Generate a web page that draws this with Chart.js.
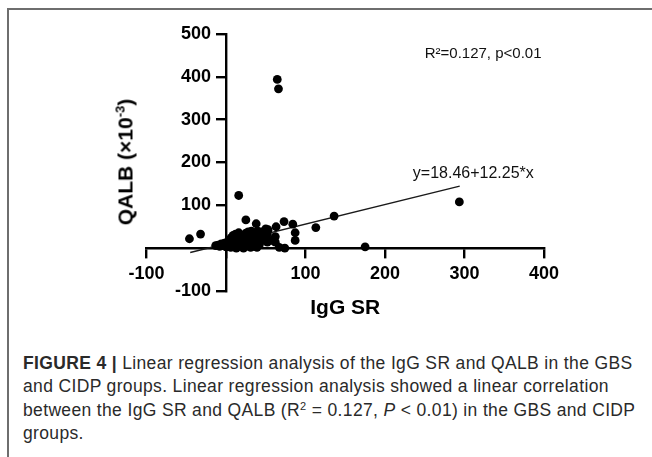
<!DOCTYPE html>
<html>
<head>
<meta charset="utf-8">
<script src="https://cdn.jsdelivr.net/npm/chart.js@4.4.1/dist/chart.umd.min.js"></script>
<style>
  body { margin: 0; background: #fff; width: 652px; height: 457px; overflow: hidden; position: relative;
         font-family: "Liberation Sans", Arial, sans-serif; }
  #frame { position: absolute; left: 7px; top: 8px; width: 660px; height: 460px;
           border-left: 2px solid #6e6e6e; border-top: 2px solid #6e6e6e; }
  #chart { position: absolute; left: 0; top: 0; }
  #ytitle { position: absolute; left: 125px; top: 162px; transform: translate(-50%, -50%) rotate(-90deg);
            font-weight: bold; font-size: 21px; white-space: nowrap; color: #000; line-height: 1; }
  #ytitle sup { font-size: 13px; vertical-align: 8px; line-height: 0; }
  #caption { position: absolute; left: 23px; top: 352px; font-size: 17.5px; letter-spacing: 0.35px;
             line-height: 23.3px; color: #2a2a2a; white-space: nowrap; }
  #caption sup { font-size: 11px; vertical-align: 6px; line-height: 0; }
</style>
</head>
<body>
<div id="frame"></div>
<canvas id="chart" width="652" height="330"></canvas>
<div id="ytitle">QALB (×10<sup>-3</sup>)</div>
<div id="caption">
  <b>FIGURE 4 |</b> Linear regression analysis of the IgG SR and QALB in the GBS<br>
  and CIDP groups. Linear regression analysis showed a linear correlation<br>
  between the IgG SR and QALB (R<sup>2</sup> = 0.127, <i>P</i> &lt; 0.01) in the GBS and CIDP<br>
  groups.
</div>
<script>
// IgG SR (x) and QALB x10^-3 (y)
const igg  = [64.5, 66, 16, -46, -32, 25, 38, 73, 84, 87, 87, 113, 136, 293.5, 175,
              63, 53, 52, 62, 52, 62, 57, 67, 74, 39, 31, 46, 45, 48, 50,
              -13, -10, -8, -6, -4, -2, 0, 0, 2, 3, 4, 5, 6, 7, 8, 9, 10, 11, 12, 13,
              14, 15, 16, 17, 18, 19, 20, 21, 22, 23, 24, 25, 26, 27, 28, 30, 31, 32,
              33, 34, 35, 36, 38, 40, 42, 44];
const qalb = [394, 372, 123, 22, 33, 66, 57, 62, 56, 36, 18, 48, 75, 108, 3,
              50, 43, 33, 27, 14, 14, 18, 2, 0, 2, 2, 18, 38, 30, 45,
              6, 7, 4, 10, 6, 12, 8, 3, 15, 5, 20, 10, 2, 25, 14, 30, 6, 20, 33, 0,
              12, 26, 36, 4, 18, 30, 8, 22, 0, 14, 28, 35, 5, 20, 38, 12, 30, 40,
              22, 4, 36, 15, 28, 40, 8, 22];

// regression line as drawn in the figure
const fitX = [-45, 294];
const fitY = [-10, 145];

const xTicks = [-100, 0, 100, 200, 300, 400];
const yTicks = [-100, 0, 100, 200, 300, 400, 500];

const statText = 'R\u00b2=0.127, p<0.01';
const fitText = 'y=18.46+12.25*x';

const fam = '"Liberation Sans", Arial, sans-serif';

const notes = {
  id: 'notes',
  afterDatasetsDraw(chart) {
    const {ctx, scales: {x, y}} = chart;
    ctx.save();
    ctx.fillStyle = '#111';
    ctx.textBaseline = 'middle';
    ctx.font = '15px ' + fam;
    ctx.fillText(statText, x.getPixelForValue(250), y.getPixelForValue(453));
    ctx.font = '16px ' + fam;
    ctx.fillText(fitText, x.getPixelForValue(235), y.getPixelForValue(175));
    ctx.restore();
  }
};

// 0 is not labelled on either axis; y labels sit left of the tick marks
const xLabel = v => (v === 0 ? '' : v);
const yLabel = v => (v === 0 ? '' : v + '   ');

new Chart(document.getElementById('chart'), {
  type: 'scatter',
  data: {
    datasets: [
      {
        data: igg.map((v, i) => ({x: v, y: qalb[i]})),
        backgroundColor: '#000',
        borderWidth: 0,
        pointRadius: 4.4
      },
      {
        data: fitX.map((v, i) => ({x: v, y: fitY[i]})),
        showLine: true,
        borderColor: '#1a1a1a',
        borderWidth: 1.4,
        pointRadius: 0
      }
    ]
  },
  options: {
    responsive: false,
    animation: false,
    layout: {padding: {left: 146.5, right: 108, top: 34, bottom: 39}},
    plugins: {legend: {display: false}, tooltip: {enabled: false}},
    scales: {
      x: {
        type: 'linear',
        position: {y: 0},
        min: -100,
        max: 400,
        afterBuildTicks: s => { s.ticks = xTicks.map(v => ({value: v})); },
        grid: {drawOnChartArea: false, tickLength: 9, color: '#000', lineWidth: 2.4},
        border: {color: '#000', width: 2.4},
        ticks: {padding: 6, color: '#000', font: {family: fam, size: 18, weight: 'bold'}, callback: xLabel},
        title: {display: true, text: 'IgG SR', color: '#000', padding: {top: 5, bottom: 0},
                font: {family: fam, size: 21, weight: 'bold'}}
      },
      y: {
        type: 'linear',
        position: {x: 0},
        min: -100,
        max: 500,
        afterBuildTicks: s => { s.ticks = yTicks.map(v => ({value: v})); },
        grid: {drawOnChartArea: false, tickLength: 9, color: '#000', lineWidth: 2.4},
        border: {color: '#000', width: 2.4},
        ticks: {padding: 5, color: '#000', font: {family: fam, size: 18, weight: 'bold'}, callback: yLabel}
      }
    }
  },
  plugins: [notes]
});
</script>
</body>
</html>
